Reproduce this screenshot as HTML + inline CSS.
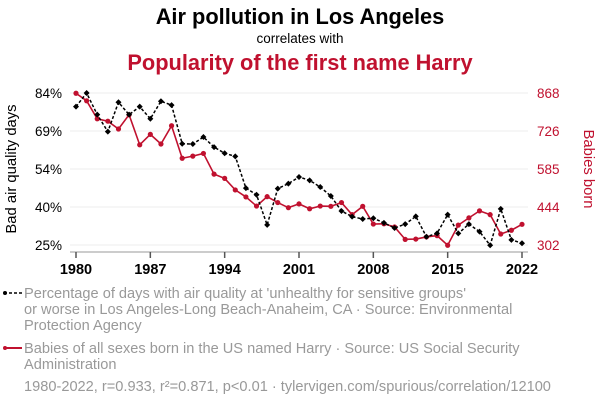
<!DOCTYPE html>
<html><head><meta charset="utf-8"><style>
body{margin:0;background:#fff;width:600px;height:408px;overflow:hidden;font-family:"Liberation Sans",sans-serif}
svg{display:block}
</style></head><body>
<svg id="chart" width="600" height="408">
<text x="300" y="24" text-anchor="middle" font-size="21.8" font-weight="bold" fill="#000">Air pollution in Los Angeles</text>
<text x="300" y="43" text-anchor="middle" font-size="13.5" fill="#000">correlates with</text>
<text x="300" y="70" text-anchor="middle" font-size="21.8" font-weight="bold" fill="#c0112f">Popularity of the first name Harry</text>
<text transform="translate(16,169) rotate(-90)" text-anchor="middle" font-size="14.8" fill="#000">Bad air quality days</text>
<text transform="translate(584,169) rotate(90)" text-anchor="middle" font-size="14.8" fill="#c0112f">Babies born</text>
<g id="grid"></g><g id="axes"></g><g id="marks"></g>
<g>
<line x1="4" y1="293" x2="22" y2="293" stroke="#000" stroke-width="1.5" stroke-dasharray="3,2"/>
<circle cx="5" cy="293" r="2" fill="#000"/>
<text font-size="14.6" fill="#999"><tspan x="24" y="298">Percentage of days with air quality at 'unhealthy for sensitive groups'</tspan><tspan x="24" y="314">or worse in Los Angeles-Long Beach-Anaheim, CA · Source: Environmental</tspan><tspan x="24" y="330">Protection Agency</tspan></text></g>
<g>
<line x1="4" y1="348" x2="22" y2="348" stroke="#c0112f" stroke-width="2"/>
<circle cx="5" cy="348" r="2" fill="#c0112f"/>
<text font-size="14.6" fill="#999"><tspan x="24" y="353">Babies of all sexes born in the US named Harry · Source: US Social Security</tspan><tspan x="24" y="369">Administration</tspan></text></g>
<text x="24" y="391" font-size="14.6" fill="#999">1980-2022, r=0.933, r²=0.871, p&lt;0.01 · tylervigen.com/spurious/correlation/12100</text>
</svg>
<script>
const years=[];for(let y=1980;y<=2022;y++)years.push(y);
const air=[78.7,84,75.6,69,80.4,75.6,78.7,74,80.8,79.3,64.3,64.2,66.9,63,60.6,59.4,47.1,44.5,32.8,46.9,48.8,51.4,50.1,47.5,44,38.2,36,35.1,35.4,33.6,31.6,33.1,36.1,28.2,29.5,36.8,29.5,33.1,30.2,24.9,39,27,25.7];
const harry=[867,839,772,763,734,787,675,714,678,746,625,633,643,566,550,507,481,447,482,460,441,455,437,447,446,460,415,446,380,381,369,323,324,332,337,301,376,403,429,415,343,357,379];
const leftTicks=["84%","69%","54%","40%","25%"];
const rightTicks=["868","726","585","444","302"];
const xTicks=[1980,1987,1994,2001,2008,2015,2022];
const NS="http://www.w3.org/2000/svg";
const xS=y=>76+(y-1980)*(522-76)/42;
const yL=v=>93+(84-v)*152/59;
const yR=v=>93+(868-v)*152/566;
function mk(tag,attrs,parent){const e=document.createElementNS(NS,tag);for(const k in attrs)e.setAttribute(k,attrs[k]);parent.appendChild(e);return e;}
const grid=document.getElementById('grid'),axes=document.getElementById('axes'),marks=document.getElementById('marks');
leftTicks.forEach((t,i)=>{const y=93+i*38;
 const g=mk('line',{x1:70,x2:528,y1:y,y2:y,stroke:'#eee','stroke-width':1},grid);
 
 
 const a=mk('text',{x:62,y:y+5,'text-anchor':'end','font-size':13.5,fill:'#000'},axes);a.textContent=t;
 
 
 const b=mk('text',{x:537,y:y+5,'font-size':13.5,fill:'#c0112f'},axes);b.textContent=rightTicks[i];
 
 
});
const ax=mk('line',{x1:70,x2:528,y1:252,y2:252,stroke:'#bbb','stroke-width':1.5},axes);


xTicks.forEach(t=>{const x=xS(t);
 mk('line',{x1:x,x2:x,y1:252,y2:258,stroke:'#555','stroke-width':1.5},axes);
 const l=mk('text',{x:x,y:274,'text-anchor':'middle','font-size':14.5,'font-weight':'bold',fill:'#000'},axes);l.textContent=t;
 
 
});
const rp=mk('polyline',{points:years.map((y,i)=>xS(y)+','+yR(harry[i])).join(' '),fill:'none',stroke:'#c0112f','stroke-width':1.6},marks);


years.forEach((y,i)=>{const c=mk('circle',{cx:xS(y),cy:yR(harry[i]),r:2.6,fill:'#c0112f'},marks);
 
 });
const bp=mk('polyline',{points:years.map((y,i)=>xS(y)+','+yL(air[i])).join(' '),fill:'none',stroke:'#000','stroke-width':1.5,'stroke-dasharray':'3,2'},marks);


years.forEach((y,i)=>{const x=xS(y),v=yL(air[i]);
 const d=mk('polygon',{points:`${x},${v-3} ${x+3},${v} ${x},${v+3} ${x-3},${v}`,fill:'#000'},marks);
 
 });
</script>
</body></html>
